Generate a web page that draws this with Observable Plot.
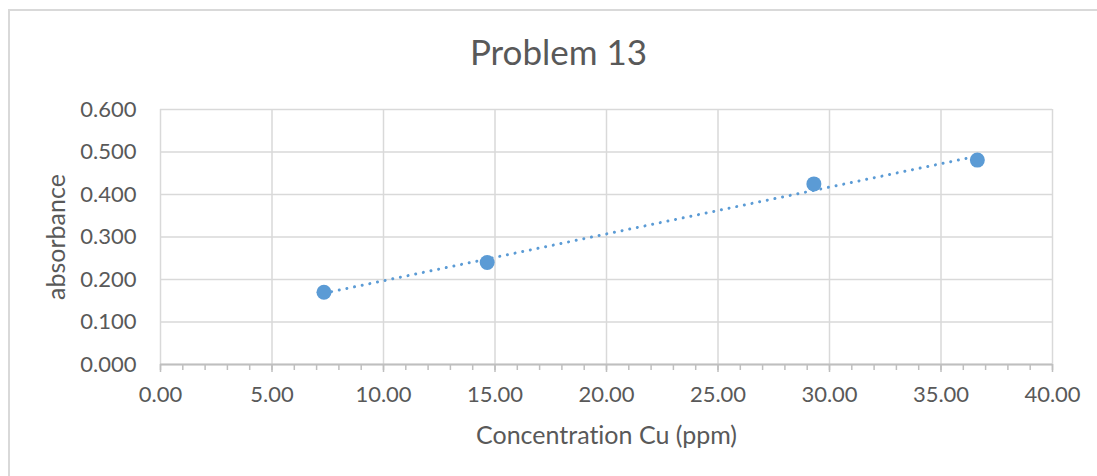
<!DOCTYPE html>
<html>
<head>
<meta charset="utf-8">
<script src="https://cdn.jsdelivr.net/npm/d3@7"></script>
<script src="https://cdn.jsdelivr.net/npm/@observablehq/plot@0.6"></script>
<style>
  html, body { margin: 0; padding: 0; background: #fff; overflow: hidden; }
  #wrap { position: relative; width: 1097px; height: 476px; overflow: hidden; font-family: Lato, "Open Sans", sans-serif; font-variant-ligatures: none; }
  #frame { position: absolute; left: 8px; top: 9px; width: 1300px; height: 700px; border: 2px solid #d9d9d9; box-sizing: border-box; }
  #title { position: absolute; left: 0; top: 31px; width: 1117px; text-align: center; font-size: 35px; color: #595959; font-weight: 400; line-height: 40px; }
  #chart { position: absolute; left: 0; top: 0; }
  #chart svg text { font-variant-ligatures: none; }
</style>
</head>
<body>
<div id="wrap">
  <div id="frame"></div>
  <div id="title">Problem 13</div>
  <div id="chart"></div>
</div>
<script>
const concentration = [7.33, 14.65, 29.30, 36.63];
const absorbance = [0.170, 0.240, 0.425, 0.481];
const xTicks = [0, 5, 10, 15, 20, 25, 30, 35, 40];
const xMinorTicks = d3.range(0, 41, 1);
const yTicks = [0, 0.1, 0.2, 0.3, 0.4, 0.5, 0.6];

const data = concentration.map((c, i) => ({x: c, y: absorbance[i]}));
const blue = "#5b9bd5";
const textColor = "#595959";

const chart = Plot.plot({
  width: 1097,
  height: 476,
  marginTop: 109,
  marginBottom: 112,
  marginLeft: 160,
  marginRight: 45,
  style: {fontFamily: "Lato, 'Open Sans', sans-serif", background: "transparent", color: textColor},
  x: {domain: [0, 40]},
  y: {domain: [0, 0.6]},
  marks: [
    Plot.gridX(xTicks, {stroke: "#d9d9d9", strokeOpacity: 1, strokeWidth: 1.5}),
    Plot.gridY(yTicks, {stroke: "#d9d9d9", strokeOpacity: 1, strokeWidth: 1.5}),
    Plot.axisX(xMinorTicks, {tickSize: 6, text: null, stroke: "#bfbfbf", strokeWidth: 1.5, label: null}),
    Plot.axisX(xTicks, {
      tickSize: 8, tickPadding: 14, stroke: "#bfbfbf", strokeWidth: 1.5,
      tickFormat: d => d.toFixed(2), fontSize: 22, fill: textColor,
      label: "Concentration Cu (ppm)", labelAnchor: "center", labelArrow: "none", labelOffset: 79
    }),
    Plot.axisY(yTicks, {
      tickSize: 0, tickPadding: 24,
      tickFormat: d => d.toFixed(3), fontSize: 22, fill: textColor,
      label: "absorbance", labelAnchor: "center", labelArrow: "none", labelOffset: 113
    }),
    Plot.ruleY([0], {stroke: "#bfbfbf", strokeWidth: 2}),
    Plot.linearRegressionY(data, {x: "x", y: "y", ci: 0, stroke: blue, strokeWidth: 3, strokeLinecap: "round", strokeDasharray: "0.01 7.8"}),
    Plot.dot(data, {x: "x", y: "y", r: 7.5, fill: blue, stroke: null})
  ]
});
chart.querySelectorAll("g[aria-label='x-axis label'] text, g[aria-label='y-axis label'] text").forEach(t => t.setAttribute("font-size", 25));
document.getElementById("chart").appendChild(chart);
</script>
</body>
</html>
